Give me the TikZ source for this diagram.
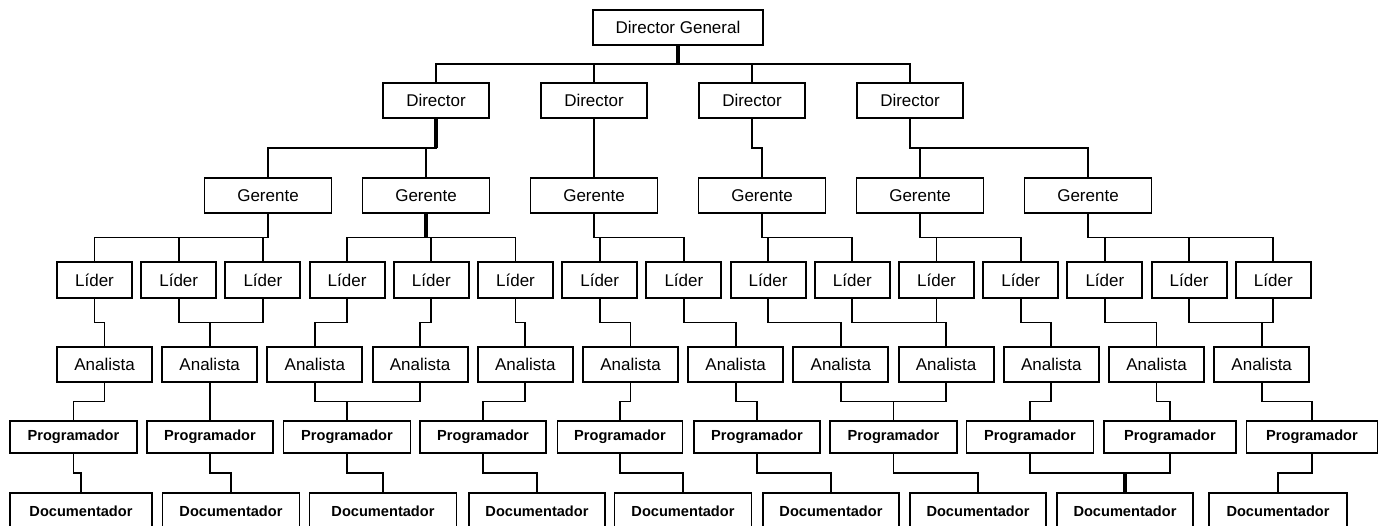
\documentclass[tikz,border=0pt]{standalone}
\usepackage{fontspec}
\setmainfont{Liberation Sans}
\usetikzlibrary{calc}

\begin{document}
\begin{tikzpicture}[x=1pt,y=-1pt,line width=1.9pt]

\tikzset{%
every box/.style={
rectangle,
draw,
inner sep=0pt,
font=\fontsize{17}{20}\selectfont
},
box bold/.style={
font=\fontsize{14.6}{17}\selectfont\bfseries
},
trunk/.style={
line width=3.2pt
},
}

\useasboundingbox [fill=white] (0,0) rectangle (1387,525);

% Director General at the top
\node [every box, minimum width=170pt, minimum height=35pt] (general) at (678,27.5) {Director General};

% Directores
\foreach \x [count=\i] in {436,594,752,910}
\node [every box, minimum width=106pt, minimum height=35pt] (director-\i) at (\x,100.5) {Director};

% Gerentes
\foreach \x [count=\i] in {268,426,594,762,920,1088}
\node [every box, minimum width=127pt, minimum height=35pt] (gerente-\i) at (\x,195.5) {Gerente};

% Lideres
\foreach \i in {1,...,15}
\node [every box, minimum width=75pt, minimum height=36pt] (lider-\i) at ({94.5+84.2*(\i-1)},280) {Líder};

% Analistas
\foreach \i in {1,...,12}
\node [every box, minimum width=95pt, minimum height=35pt] (analista-\i) at ({104.5+105.2*(\i-1)},364.5) {Analista};

% Programadores
\foreach \x/\w [count=\i] in {73.5/127,210/126,347/127,483/126,620/125,757/126,893.5/127,1030/127,1170/132,1312/131}
\node [every box, box bold, minimum width=\w pt, minimum height=32pt] (programador-\i) at (\x,437) {Programador};

% Documentadores (cut by the bottom edge)
\foreach \x/\w [count=\i] in {81/142,231/137,383/147,537/136,683/137,831/136,978/136,1125/136,1278/138}
\node [every box, box bold, minimum width=\w pt, minimum height=36pt] (documentador-\i) at (\x,511) {Documentador};

% Elbow connectors, parent to child
\foreach \a/\b in {general/director-1,general/director-2,general/director-3,general/director-4,
director-1/gerente-1,director-1/gerente-2,director-2/gerente-3,director-3/gerente-4,director-4/gerente-5,director-4/gerente-6,
gerente-1/lider-1,gerente-1/lider-2,gerente-1/lider-3,gerente-2/lider-4,gerente-2/lider-5,gerente-2/lider-6,
gerente-3/lider-7,gerente-3/lider-8,gerente-4/lider-9,gerente-4/lider-10,gerente-5/lider-11,gerente-5/lider-12,
gerente-6/lider-13,gerente-6/lider-14,gerente-6/lider-15}
\draw (\a.south) |- ($(\a.south)!.5!(\b.north)$) -| (\b.north);

% Lideres to Analistas
\foreach \a/\b in {1/1,2/2,3/2,4/3,5/4,6/5,7/6,8/7,9/8,10/9,11/9,12/10,13/11,14/12,15/12}
\draw (lider-\a.south) |- ($(lider-\a.south)!.5!(analista-\b.north)$) -| (analista-\b.north);

% Analistas to Programadores
\foreach \a/\b in {1/1,2/2,3/3,4/3,5/4,6/5,7/6,8/7,9/7,10/8,11/9,12/10}
\draw (analista-\a.south) |- ($(analista-\a.south)!.5!(programador-\b.north)$) -| (programador-\b.north);

% Programadores to Documentadores
\foreach \a/\b in {1/1,2/2,3/3,4/4,5/5,6/6,7/7,8/8,9/8,10/9}
\draw (programador-\a.south) |- ($(programador-\a.south)!.5!(documentador-\b.north)$) -| (documentador-\b.north);

% heavier stems
\draw [trunk] (general.south) -- ($(general.south)!.5!(general.south |- director-1.north)$);
\draw [trunk] (director-1.south) -- ($(director-1.south)!.5!(director-1.south |- gerente-1.north)$);
\draw [trunk] (gerente-2.south) -- ($(gerente-2.south)!.5!(gerente-2.south |- lider-1.north)$);
\draw [trunk] (documentador-8.north) -- ($(documentador-8.north)!.5!(documentador-8.north |- programador-8.south)$);

\end{tikzpicture}
\end{document}
